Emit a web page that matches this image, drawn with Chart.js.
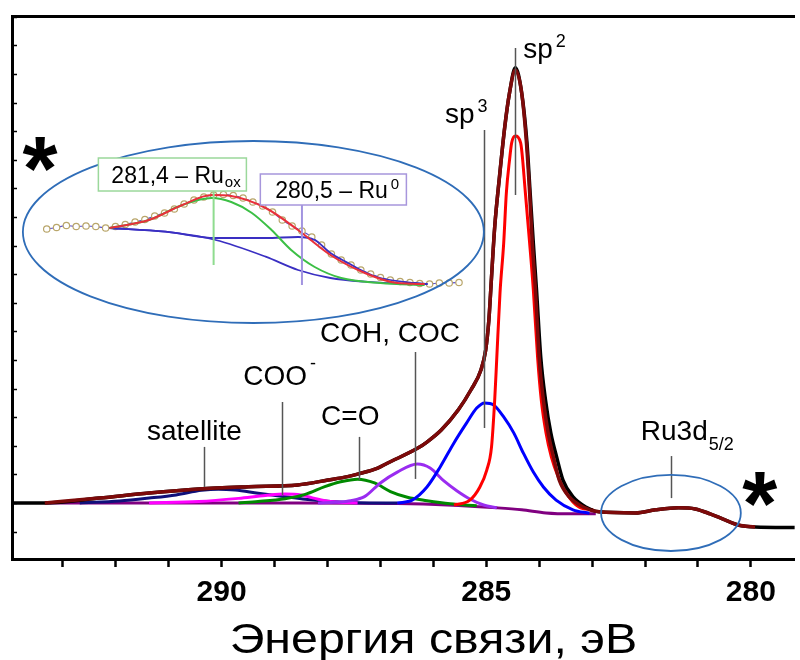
<!DOCTYPE html>
<html lang="ru">
<head>
<meta charset="utf-8">
<title>XPS C1s</title>
<script src="https://cdn.jsdelivr.net/npm/chart.js@4.4.0/dist/chart.umd.min.js"></script>
<style>
  html, body { margin: 0; padding: 0; background: #fff; }
  #wrap { width: 800px; height: 660px; }
</style>
</head>
<body>
<div id="wrap"><canvas id="xps" width="800" height="660"></canvas></div>
<script>
// C1s + Ru3d спектр: энергия связи (эВ) и интенсивность (отн. ед.)
const expE = [293.96, 293.34, 292.31, 291.37, 290.43, 289.49, 288.56, 287.99, 287.62, 287.43, 287.05, 286.87, 286.30, 286.12, 285.85, 285.53, 285.29, 285.10, 285.01, 284.95, 284.92, 284.90, 284.84, 284.75, 284.65, 284.56, 284.45, 284.33, 284.23, 284.17, 284.11, 284.05, 283.97, 283.88, 283.78, 283.67, 283.55, 283.36, 283.12, 282.87, 282.18, 281.80, 281.37, 281.05, 280.77, 280.49, 280.24, 279.92, 279.17];
const expI = [0, 0, 0.17, 0.35, 0.49, 0.57, 0.63, 0.80, 0.92, 1.01, 1.22, 1.39, 1.91, 2.13, 2.55, 3.25, 3.95, 4.65, 5.35, 6.40, 7.27, 7.90, 9.65, 11.40, 13.15, 14.34, 15.22, 14.34, 12.59, 10.84, 9.09, 7.45, 5.10, 3.60, 2.45, 1.61, 0.80, 0.21, -0.14, -0.31, -0.35, -0.24, -0.17, -0.21, -0.38, -0.59, -0.77, -0.84, -0.86];

// огибающая (сумма компонент)
const fitE = [293.34, 292.31, 291.37, 290.43, 289.49, 288.56, 287.99, 287.62, 287.43, 287.05, 286.87, 286.30, 286.12, 285.85, 285.53, 285.29, 285.10, 285.01, 284.95, 284.92, 284.90, 284.84, 284.75, 284.65, 284.56, 284.45, 284.33, 284.24, 284.18, 284.13, 284.07, 284.00, 283.92, 283.83, 283.73, 283.62, 283.43, 283.17, 282.87, 282.18, 281.80, 281.37, 281.05, 280.77, 280.49, 280.24, 279.92];
const fitI = [0, 0.17, 0.35, 0.49, 0.57, 0.63, 0.80, 0.92, 1.01, 1.22, 1.39, 1.91, 2.13, 2.55, 3.25, 3.95, 4.65, 5.35, 6.40, 7.27, 7.90, 9.65, 11.40, 13.15, 14.34, 15.14, 14.34, 12.59, 10.84, 9.09, 7.45, 5.10, 3.60, 2.45, 1.61, 0.80, 0.21, -0.14, -0.31, -0.35, -0.24, -0.17, -0.21, -0.38, -0.59, -0.77, -0.84];

// компоненты
const sp2E = [285.61, 285.31, 285.12, 284.99, 284.90, 284.84, 284.80, 284.74, 284.67, 284.62, 284.56, 284.52, 284.45, 284.35, 284.26, 284.18, 284.11, 284.03, 283.96, 283.87, 283.77, 283.64, 283.49, 283.25, 282.98];
const sp2I = [-0.07, 0.10, 0.56, 1.15, 1.96, 3.60, 5.10, 7.34, 9.09, 10.84, 11.99, 12.59, 12.83, 12.59, 10.84, 9.09, 7.45, 5.10, 3.60, 2.45, 1.61, 0.91, 0.35, -0.14, -0.24];

const sp3E = [286.68, 286.40, 286.12, 285.87, 285.61, 285.37, 285.18, 285.03, 284.86, 284.67, 284.48, 284.30, 284.11, 283.92, 283.68, 283.36, 283.05];
const sp3I = [0, 0.10, 0.56, 1.26, 2.10, 2.80, 3.32, 3.50, 3.43, 3.01, 2.45, 1.75, 1.08, 0.56, 0.10, -0.24, -0.36];

const cohE = [288.18, 287.80, 287.56, 287.30, 287.00, 286.68, 286.30, 286.06, 285.80, 285.55, 285.31, 285.05, 284.80];
const cohI = [0, 0.03, 0.08, 0.22, 0.70, 1.08, 1.36, 1.22, 0.77, 0.42, 0.14, -0.07, -0.17];

const coE = [289.68, 289.31, 288.80, 288.42, 288.05, 287.75, 287.43, 287.11, 286.81, 286.49, 286.12, 285.68, 285.18];
const coI = [0, 0.05, 0.15, 0.30, 0.57, 0.74, 0.83, 0.70, 0.40, 0.20, 0.08, -0.03, -0.10];

const cooE = [291.37, 290.43, 289.68, 289.17, 288.80, 288.50, 288.24, 287.94, 287.43];
const cooI = [0, 0.05, 0.16, 0.26, 0.31, 0.28, 0.16, 0.05, 0];

const satE = [292.68, 291.93, 291.37, 290.86, 290.38, 290.06, 289.74, 289.31, 288.80, 288.42, 287.94, 287.43, 286.68];
const satI = [0, 0.07, 0.17, 0.28, 0.44, 0.48, 0.45, 0.34, 0.22, 0.13, 0.05, 0.01, 0];

const bgE = [293.34, 288.56, 286.68, 285.74, 284.80, 284.33, 283.87, 283.40, 282.93];
const bgI = [0, 0, -0.02, -0.07, -0.17, -0.24, -0.35, -0.38, -0.38];

// вставка: Ru3d5/2 крупно
const ruE = [283.1, 283.0, 282.9, 282.8, 282.7, 282.6, 282.5, 282.4, 282.3, 282.2, 282.1, 282.0, 281.9, 281.8, 281.7, 281.6, 281.5, 281.4, 281.3, 281.2, 281.1, 281.0, 280.9, 280.8, 280.7, 280.6, 280.5, 280.4, 280.3, 280.2, 280.1, 280.0, 279.9, 279.8, 279.7, 279.6, 279.5, 279.4, 279.3, 279.2, 279.1, 279.0, 278.9];
const ruI = [5.5, 5.65, 5.85, 5.75, 5.8, 5.75, 5.6, 5.75, 5.95, 6.2, 6.45, 6.8, 7.1, 7.5, 8.0, 8.4, 8.7, 8.9, 8.95, 8.85, 8.6, 8.2, 7.8, 7.2, 6.4, 5.8, 5.3, 4.7, 3.9, 3.0, 2.4, 1.9, 1.4, 1.0, 0.65, 0.4, 0.25, 0.15, 0.05, 0.0, 0.1, 0.1, 0.15];

const ruFitE = [282.46, 282.06, 281.72, 281.42, 281.22, 280.87, 280.54, 280.21, 279.86, 279.53, 279.25];
const ruFitI = [5.6, 6.4, 7.9, 8.9, 8.8, 7.6, 5.4, 2.9, 1.1, 0.1, 0];

const ruOxE = [282.46, 282.06, 281.72, 281.42, 281.22, 281.01, 280.81, 280.61, 280.37, 280.10, 279.70, 279.25];
const ruOxI = [5.6, 6.4, 7.9, 8.6, 8.2, 7.1, 5.4, 3.4, 1.7, 0.6, 0.1, -0.1];

const ruMetE = [282.46, 281.89, 281.38, 280.87, 280.54, 280.37, 280.21, 280.03, 279.86, 279.70, 279.35, 279.22];
const ruMetI = [5.6, 5.23, 4.6, 4.6, 4.7, 4.4, 3.1, 2.1, 1.2, 0.6, 0.1, 0];

const ruBgE = [282.46, 281.89, 281.38, 280.87, 280.54, 280.21, 279.86, 279.35, 279.22];
const ruBgI = [5.6, 5.23, 4.4, 2.73, 1.4, 0.6, 0.23, 0, 0];

// положения пиков Ru во вставке
const ruOxPeak = 281.4;
const ruMetPeak = 280.5;

const xTitle = 'Энергия связи, эВ';
const FONT = '"Liberation Sans", Arial, sans-serif';

const pts = (xs, ys) => xs.map((x, i) => ({ x: x, y: ys[i] }));

const line = (label, xs, ys, color, width, extra) => Object.assign({
    label: label,
    data: pts(xs, ys),
    borderColor: color,
    borderWidth: width,
    pointRadius: 0,
    fill: false,
    cubicInterpolationMode: 'monotone'
}, extra || {});

const inset = { xAxisID: 'xi', yAxisID: 'yi' };

const datasets = [
    line('ox line', [ruOxPeak, ruOxPeak], [9.2, 1.9], '#8fdc8f', 2, inset),
    line('met line', [ruMetPeak, ruMetPeak], [7.9, -0.1], '#a294e0', 2, inset),
    line('Ru fit', ruFitE, ruFitI, '#e8303a', 2, inset),
    line('Ru ox', ruOxE, ruOxI, '#3cbf45', 2, inset),
    line('Ru0', ruMetE, ruMetI, '#3a2fc2', 1.8, inset),
    line('Ru bg', ruBgE, ruBgI, '#3a2fc2', 1.8, inset),
    line('Ru data', ruE, ruI, '#5a4fd0', 1.2, Object.assign({
        pointRadius: 3.2, pointBorderColor: '#b9a66b', pointBackgroundColor: '#fff', pointBorderWidth: 1.2
    }, inset)),
    line('fit', fitE, fitI, '#7d0a0a', 3.5),
    line('exp', expE, expI, '#000', 3.5),
    line('sp2', sp2E, sp2I, '#ff0000', 3),
    line('sp3', sp3E, sp3I, '#0000ff', 3),
    line('COH, COC', cohE, cohI, '#9a2cf0', 3),
    line('C=O', coE, coI, '#008a00', 3),
    line('COO', cooE, cooI, '#ff00ff', 3),
    line('satellite', satE, satI, '#10107a', 3),
    line('bg', bgE, bgI, '#800080', 3)
];

// подписи пиков: текст + выноска
const peakLabels = [
    { text: 'sp', sup: '2', e: 284.30, y: 15.56, lineE: 284.45, y1: 15.91, y2: 10.77 },
    { text: 'sp', sup: '3', e: 285.78, y: 13.29, lineE: 285.05, y1: 13.04, y2: 2.62 },
    { text: 'COH, COC', e: 288.14, y: 5.63, lineE: 286.34, y1: 5.28, y2: 0.84 },
    { text: 'COO', sup: '-', e: 289.59, y: 4.13, lineE: 288.86, y1: 3.53, y2: 0.28 },
    { text: 'C=O', e: 288.12, y: 2.73, lineE: 287.41, y1: 2.31, y2: 0.80 },
    { text: 'satellite', e: 291.41, y: 2.20, lineE: 290.34, y1: 1.96, y2: 0.56 },
    { text: 'Ru3d', sub: '5/2', e: 282.08, y: 2.20, lineE: 281.50, y1: 1.64, y2: 0.17 }
];

function richText(ctx, x, y, p, size, small, raise, drop) {
    ctx.font = size + 'px ' + FONT;
    ctx.fillText(p.text, x, y);
    const w = ctx.measureText(p.text).width;
    ctx.font = small + 'px ' + FONT;
    if (p.sup) ctx.fillText(p.sup, x + w + 3, y - raise);
    if (p.sub) ctx.fillText(p.sub, x + w + 1, y + drop);
}

function ellipse(ctx, l, r, t, b) {
    ctx.beginPath();
    ctx.ellipse((l + r) / 2, (t + b) / 2, Math.abs(r - l) / 2, Math.abs(b - t) / 2, 0, 0, Math.PI * 2);
    ctx.stroke();
}

const decor = {
    id: 'decor',
    afterDatasetsDraw(chart) {
        const ctx = chart.ctx;
        const sx = chart.scales.x, sy = chart.scales.y;
        const ix = chart.scales.xi, iy = chart.scales.yi;
        const area = chart.chartArea;
        ctx.save();

        // внутренние засечки левой оси
        ctx.strokeStyle = '#000';
        ctx.lineWidth = 1.5;
        for (let v = Math.ceil(sy.min); v <= Math.floor(sy.max); v++) {
            const py = Math.round(sy.getPixelForValue(v)) + 0.5;
            ctx.beginPath();
            ctx.moveTo(area.left, py);
            ctx.lineTo(area.left + 5, py);
            ctx.stroke();
        }

        // выноски и подписи
        ctx.strokeStyle = '#555';
        ctx.lineWidth = 1.5;
        ctx.fillStyle = '#000';
        ctx.textBaseline = 'alphabetic';
        ctx.textAlign = 'left';
        peakLabels.forEach(p => {
            const lx = Math.round(sx.getPixelForValue(p.lineE)) + 0.5;
            ctx.beginPath();
            ctx.moveTo(lx, sy.getPixelForValue(p.y1));
            ctx.lineTo(lx, sy.getPixelForValue(p.y2));
            ctx.stroke();
            richText(ctx, sx.getPixelForValue(p.e), sy.getPixelForValue(p.y), p, 28, 18, p.text === 'COO' ? 16 : 11, 10);
        });

        // овалы
        ctx.strokeStyle = '#2f6db8';
        ctx.lineWidth = 1.8;
        ellipse(ctx, ix.getPixelForValue(283.343), ix.getPixelForValue(278.647), iy.getPixelForValue(14.3), iy.getPixelForValue(-3.9));
        ellipse(ctx, sx.getPixelForValue(282.83), sx.getPixelForValue(280.19), sy.getPixelForValue(0.98), sy.getPixelForValue(-1.68));

        // рамки с подписями во вставке
        const box = (e1, e2, t, b, color) => {
            const l = ix.getPixelForValue(e1), r = ix.getPixelForValue(e2);
            const top = iy.getPixelForValue(t), bot = iy.getPixelForValue(b);
            ctx.fillStyle = '#fff';
            ctx.fillRect(l, top, r - l, bot - top);
            ctx.strokeStyle = color;
            ctx.lineWidth = 1.5;
            ctx.strokeRect(l, top, r - l, bot - top);
        };
        box(282.574, 281.066, 12.6, 9.3, '#9bd89b');
        box(280.924, 279.436, 11.0, 7.9, '#a796dc');
        ctx.fillStyle = '#000';
        richText(ctx, ix.getPixelForValue(282.442), iy.getPixelForValue(10.1), { text: '281,4 \u2013 Ru', sub: 'ox' }, 23, 15, 0, 4);
        richText(ctx, ix.getPixelForValue(280.772), iy.getPixelForValue(8.6), { text: '280,5 \u2013 Ru', sup: '0' }, 23, 15, 9, 0);

        // звёздочки
        ctx.font = 'bold 90px ' + FONT;
        ctx.textAlign = 'center';
        ctx.fillText('*', sx.getPixelForValue(293.43), sy.getPixelForValue(12.17) + 45);
        ctx.fillText('*', sx.getPixelForValue(279.83), sy.getPixelForValue(0.45) + 45);

        // подпись оси X (немного растянута по горизонтали)
        ctx.font = '42px ' + FONT;
        ctx.translate((area.left + area.right) / 2 + 30, chart.height - 7);
        ctx.scale(1.15, 1);
        ctx.fillText(xTitle, 0, 0);

        ctx.restore();
    }
};

new Chart(document.getElementById('xps'), {
    type: 'line',
    data: { datasets: datasets },
    options: {
        responsive: false,
        animation: false,
        layout: { padding: 0 },
        plugins: { legend: { display: false }, tooltip: { enabled: false } },
        scales: {
            x: {
                type: 'linear', position: 'bottom', reverse: true, min: 279.17, max: 293.96,
                afterFit: s => { s.height = 101; },
                border: { display: true, color: '#000', width: 3 },
                grid: { drawOnChartArea: false, drawTicks: true, tickLength: 8, tickWidth: 2.5, tickColor: '#000' },
                ticks: {
                    stepSize: 1, includeBounds: false, autoSkip: false, maxRotation: 0, padding: 8,
                    color: '#000', font: { family: FONT, size: 30, weight: 'bold' },
                    callback: v => (v % 5 === 0 ? String(v) : '')
                },
                title: { display: false }
            },
            xTop: {
                type: 'linear', position: 'top', reverse: true, min: 279.17, max: 293.96,
                afterFit: s => { s.height = 16; },
                border: { display: true, color: '#000', width: 3 },
                grid: { drawOnChartArea: false, drawTicks: false },
                ticks: { display: false }
            },
            y: {
                type: 'linear', position: 'left', min: -1.96, max: 17.03,
                afterFit: s => { s.width = 12; },
                border: { display: true, color: '#000', width: 3 },
                grid: { drawOnChartArea: false, drawTicks: false },
                ticks: { display: false }
            },
            xi: { type: 'linear', display: false, reverse: true, min: 275.479, max: 283.454 },
            yi: { type: 'linear', display: false, min: -27.5, max: 26.8 }
        }
    },
    plugins: [decor]
});
</script>
</body>
</html>
